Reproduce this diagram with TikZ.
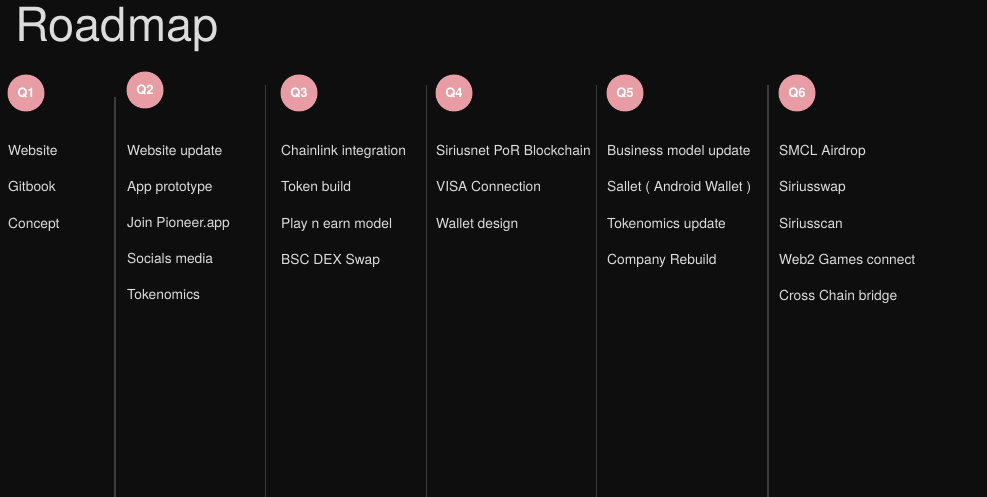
\documentclass[tikz,border=0pt]{standalone}
\usepackage{fontspec}
\setmainfont{TeX Gyre Heros}
\usetikzlibrary{positioning}
\definecolor{bgdark}{HTML}{0F0E0F}
\definecolor{qpink}{HTML}{E89DA5}
\definecolor{itemgray}{HTML}{DCDCDC}
\definecolor{linegray}{HTML}{3C3B3C}

\begin{document}
\begin{tikzpicture}[
	x=1pt,y=-1pt,
	qdot/.style={circle,fill=qpink,text=white,minimum size=37pt,inner sep=0pt,font=\bfseries\fontsize{13}{13}\selectfont},
	item/.style={anchor=base west,inner sep=0pt,text=itemgray,font=\fontsize{13.8}{14}\selectfont},
	divider/.style={draw=linegray,line width=1.4pt}
]
\fill[bgdark] (0,0) rectangle (987,497);
\useasboundingbox (0,0) rectangle (987,497);
\node[anchor=base west,inner sep=0pt,text=itemgray,font=\fontsize{47}{47}\selectfont] (title) at (15,42) {Roadmap};
% column dividers
\draw[divider] (115,97) -- (115,497);
\foreach \xx in {265.5,426.5,596.5,768}
	\draw[divider] (\xx,85) -- (\xx,497);
% quarters
\node[qdot] (q1) at (26,93) {Q1};
\node[qdot] (q2) at (145,90) {Q2};
\node[qdot] (q3) at (299,93) {Q3};
\node[qdot] (q4) at (454,93) {Q4};
\node[qdot] (q5) at (625,93) {Q5};
\node[qdot] (q6) at (797,93) {Q6};
% items (baselines)
\foreach \t [count=\i] in {Website,Gitbook,Concept}
	\node[item] (q1-\i) at (8,{156+36*(\i-1)}) {\t};
\foreach \t [count=\i] in {Website update,App prototype,Join Pioneer.app,Socials media,Tokenomics}
	\node[item] (q2-\i) at (127,{156+35.8*(\i-1)}) {\t};
\foreach \t [count=\i] in {Chainlink integration,Token build,Play n earn model,BSC DEX Swap}
	\node[item] (q3-\i) at (281,{156+36*(\i-1)}) {\t};
\foreach \t [count=\i] in {Siriusnet PoR Blockchain,VISA Connection,Wallet design}
	\node[item] (q4-\i) at (436,{156+36*(\i-1)}) {\t};
\foreach \t [count=\i] in {Business model update,Sallet ( Android Wallet ),Tokenomics update,Company Rebuild}
	\node[item] (q5-\i) at (607,{156+36*(\i-1)}) {\t};
\foreach \t [count=\i] in {SMCL Airdrop,Siriusswap,Siriusscan,Web2 Games connect,Cross Chain bridge}
	\node[item] (q6-\i) at (779,{156+36*(\i-1)}) {\t};
\end{tikzpicture}
\end{document}
